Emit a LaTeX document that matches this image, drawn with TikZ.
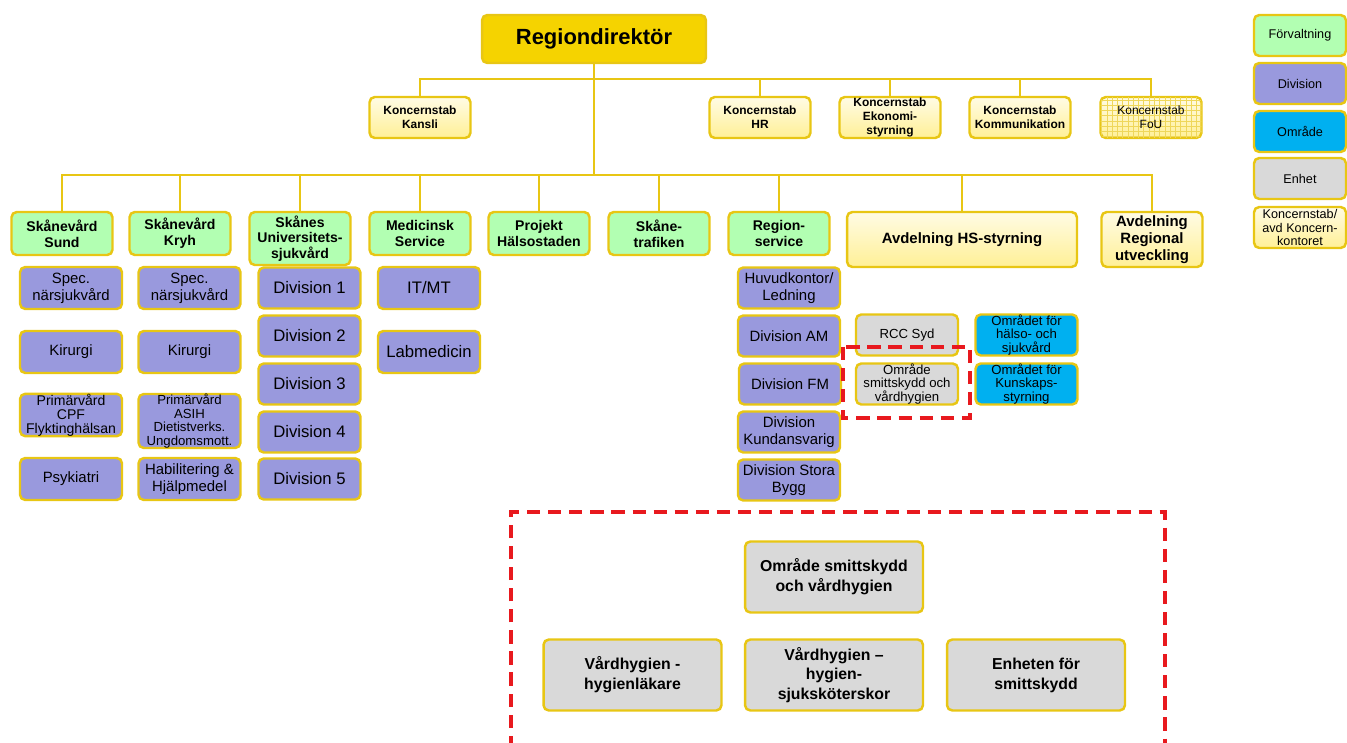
\documentclass[tikz,border=0pt]{standalone}
\usepackage{fontspec}
\setmainfont{Liberation Sans}
\usetikzlibrary{patterns}
\definecolor{gold}{RGB}{245,211,0}
\definecolor{rim}{RGB}{232,198,20}
\definecolor{pale}{RGB}{255,240,150}
\definecolor{mint}{RGB}{178,255,178}
\definecolor{lilac}{RGB}{153,153,221}
\definecolor{sky}{RGB}{0,176,240}
\definecolor{ash}{RGB}{217,217,217}
\definecolor{alarm}{RGB}{232,25,30}

\begin{document}
\begin{tikzpicture}
  [x=0.02cm,y=-0.02cm,
   every node/.style={draw=rim,line width=1.4pt,rounded corners=3pt,align=center,inner sep=0pt},
   boss/.style={fill=gold,minimum width=4.48cm,minimum height=0.96cm,font=\bfseries\fontsize{12.5}{14}\selectfont},
   stab/.style={top color=pale!25,bottom color=pale,minimum width=2.02cm,minimum height=0.82cm,font=\bfseries\fontsize{6.8}{8}\selectfont},
   forv/.style={fill=mint,minimum width=2.02cm,minimum height=0.86cm,font=\bfseries\fontsize{8}{9}\selectfont},
   avd/.style={top color=pale!25,bottom color=pale,minimum height=1.1cm,font=\bfseries\fontsize{8.5}{9.8}\selectfont},
   div/.style={fill=lilac,minimum width=2.04cm,minimum height=0.84cm,font=\fontsize{8.5}{9.5}\selectfont},
   omr/.style={fill=sky,minimum width=2.04cm,minimum height=0.82cm,font=\fontsize{7.5}{7.8}\selectfont},
   enh/.style={fill=ash,minimum width=2.04cm,minimum height=0.82cm,font=\fontsize{7.5}{7.8}\selectfont},
   big/.style={fill=ash,minimum width=3.56cm,minimum height=1.42cm,font=\bfseries\fontsize{9}{11.3}\selectfont},
   legend/.style={minimum width=1.84cm,minimum height=0.82cm,font=\fontsize{7.2}{7.6}\selectfont},
   wire/.style={draw=rim,line width=1.1pt},
   reddash/.style={draw=alarm,line width=2.2pt,dash pattern=on 7.5pt off 4.5pt}]
  \useasboundingbox (0,0) rectangle (1347,743);

  % top
  \node[boss] (nrd) at (594,39) {Regiondirektör};
  \node[stab] (nkansli) at (420,117.5) {Koncernstab\\Kansli};
  \node[stab] (nhr) at (760,117.5) {Koncernstab\\HR};
  \node[stab] (neko) at (890,117.5) {Koncernstab\\Ekonomi-\\styrning};
  \node[stab] (nkomm) at (1020,117.5) {Koncernstab\\Kommunikation};
  \node[stab,font=\fontsize{6.8}{8}\selectfont,postaction={pattern=grid,pattern color=rim!70}] (nfou) at (1151,117.5) {Koncernstab\\FoU};

  % förvaltningar
  \node[forv] (nsund) at (62,233.5) {Skånevård\\Sund};
  \node[forv] (nkryh) at (180,233.5) {Skånevård\\Kryh};
  \node[forv,minimum height=1.06cm] (nsus) at (300,238.5) {Skånes\\Universitets-\\sjukvård};
  \node[forv] (nms) at (420,233.5) {Medicinsk\\Service};
  \node[forv] (nph) at (539,233.5) {Projekt\\Hälsostaden};
  \node[forv] (nst) at (659,233.5) {Skåne-\\trafiken};
  \node[forv] (nrs) at (779,233.5) {Region-\\service};
  \node[avd,minimum width=4.6cm] (nhs) at (962,239.5) {Avdelning HS-styrning};
  \node[avd,minimum width=2.02cm] (nru) at (1152,239.5) {Avdelning\\Regional\\utveckling};

  % divisioner
  \node[div] (nsund1) at (71,288) {Spec.\\närsjukvård};
  \node[div] (nsund2) at (71,352) {Kirurgi};
  \node[div,font=\fontsize{8}{8}\selectfont] (nsund3) at (71,415) {Primärvård\\CPF\\Flyktinghälsan};
  \node[div] (nsund4) at (71,479) {Psykiatri};
  \node[div] (nkryh1) at (189.5,288) {Spec.\\närsjukvård};
  \node[div] (nkryh2) at (189.5,352) {Kirurgi};
  \node[div,minimum height=1.08cm,font=\fontsize{7.5}{7.7}\selectfont] (nkryh3) at (189.5,421) {Primärvård\\ASIH\\Dietistverks.\\Ungdomsmott.};
  \node[div] (nkryh4) at (189.5,479) {Habilitering \&\\Hjälpmedel};
  \foreach \i/\y in {1/288,2/336,3/384,4/432,5/479}
    \node[div,minimum height=0.82cm,font=\fontsize{9.5}{11}\selectfont] (nsus\i) at (309.5,\y) {Division \i};
  \node[div,font=\fontsize{9.5}{11}\selectfont] (nms1) at (429,288) {IT/MT};
  \node[div,font=\fontsize{9.5}{11}\selectfont] (nms2) at (429,352) {Labmedicin};
  \node[div,minimum height=0.82cm] (nrs1) at (789,288) {Huvudkontor/\\Ledning};
  \node[div,minimum height=0.82cm] (nrs2) at (789,336) {Division AM};
  \node[div,minimum height=0.82cm] (nrs3) at (790,384) {Division FM};
  \node[div,minimum height=0.82cm] (nrs4) at (789,432) {Division\\Kundansvarig};
  \node[div,minimum height=0.82cm] (nrs5) at (789,480) {Division Stora\\Bygg};

  % hs-styrning
  \node[enh] (nrcc) at (907,335) {RCC Syd};
  \node[enh] (nsmitt) at (907,384) {Område\\smittskydd och\\vårdhygien};
  \node[omr] (nhsv) at (1026.5,335) {Området för\\hälso- och\\sjukvård};
  \node[omr] (nkun) at (1026.5,384) {Området för\\Kunskaps-\\styrning};

  % utsnitt
  \node[big] (nomr) at (834,577) {Område smittskydd\\och vårdhygien};
  \node[big] (nlak) at (632.5,675) {Vårdhygien -\\hygienläkare};
  \node[big] (nssk) at (834,675) {Vårdhygien –\\hygien-\\sjuksköterskor};
  \node[big] (nenh) at (1036,675) {Enheten för\\smittskydd};

  % legend
  \node[legend,fill=mint] (lforv) at (1300,35.5) {Förvaltning};
  \node[legend,fill=lilac] (ldiv) at (1300,83.5) {Division};
  \node[legend,fill=sky] (lomr) at (1300,131.5) {Område};
  \node[legend,fill=ash] (lenh) at (1300,178.5) {Enhet};
  \node[legend,top color=pale!25,bottom color=pale] (lstab) at (1300,227.5) {Koncernstab/\\avd Koncern-\\kontoret};

  \coordinate (top) at (594,79);
  \coordinate (mid) at (594,175);
  \draw[wire] (nrd) -- (mid);
  \foreach \n in {nkansli,nhr,neko,nkomm,nfou}
    \draw[wire] (top) -| (\n);
  \foreach \n in {nsund,nkryh,nsus,nms,nph,nst,nrs,nhs,nru}
    \draw[wire] (mid) -| (\n);

  \draw[reddash] (843,347) rectangle (970,418);
  \draw[reddash] (511,770) -- (511,512) -- (1165,512) -- (1165,770);
\end{tikzpicture}
\end{document}
